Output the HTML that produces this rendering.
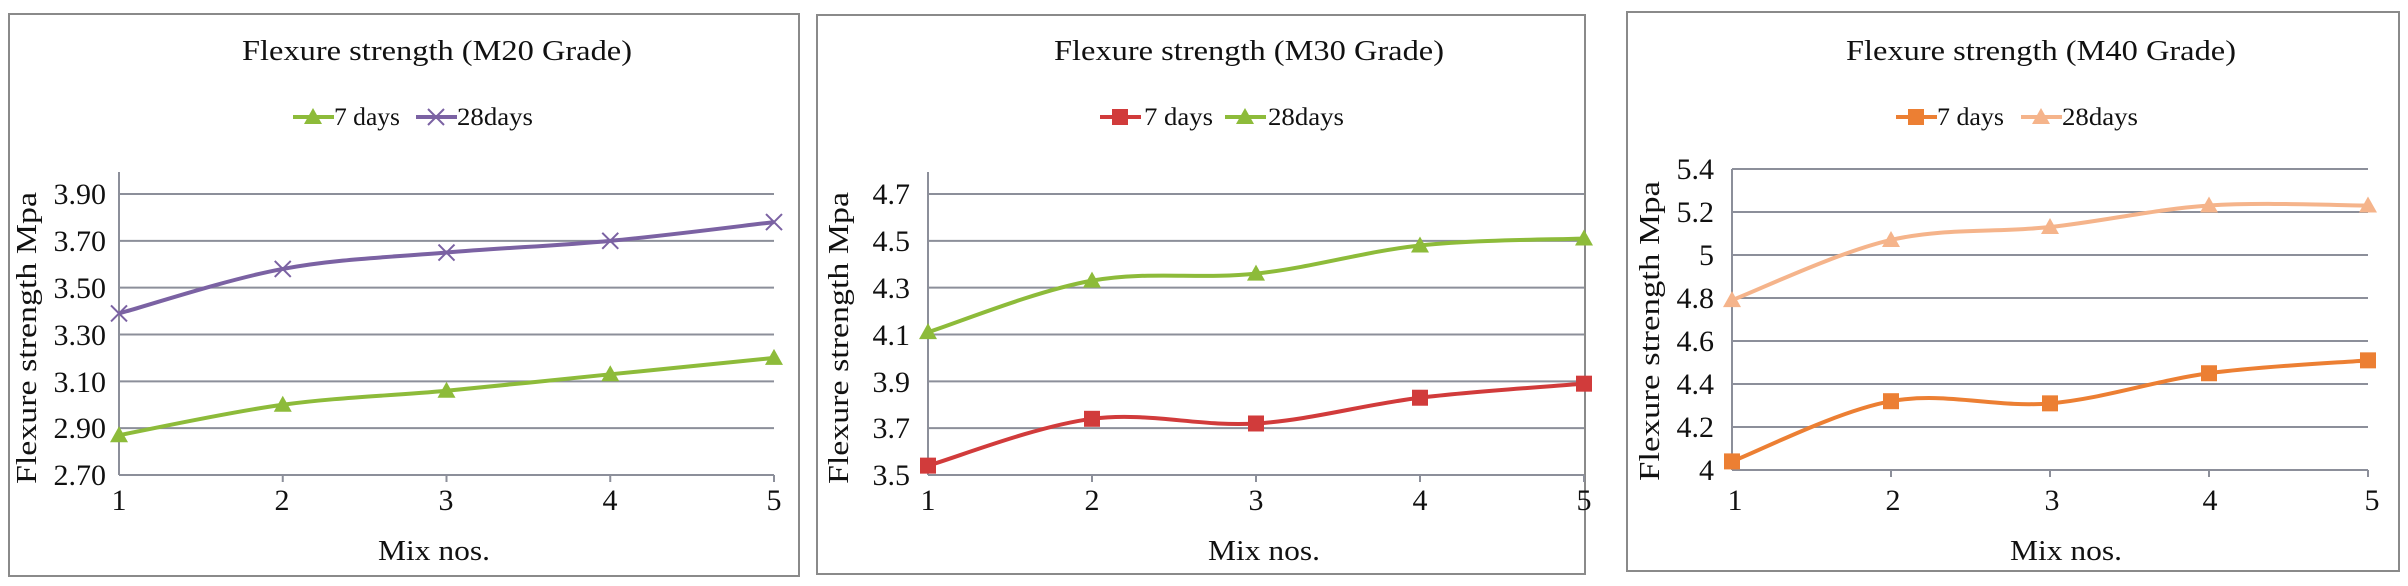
<!DOCTYPE html>
<html><head><meta charset="utf-8"><style>
html,body{margin:0;padding:0;background:#fff;}
svg{display:block;font-family:"Liberation Serif",serif;}
</style></head><body>
<svg id="s" width="2408" height="586" viewBox="0 0 2408 586" xmlns="http://www.w3.org/2000/svg">
<rect x="0" y="0" width="2408" height="586" fill="#fff"/>
<rect x="9" y="14" width="790" height="562" fill="none" stroke="#8a8a8a" stroke-width="2"/>
<rect x="817" y="15" width="768" height="559" fill="none" stroke="#8a8a8a" stroke-width="2"/>
<rect x="1627" y="12" width="772" height="559" fill="none" stroke="#8a8a8a" stroke-width="2"/>
<g font-size="29" fill="#111" text-anchor="middle">
<text x="437" y="60" textLength="390" lengthAdjust="spacingAndGlyphs">Flexure strength (M20 Grade)</text>
<text x="1249" y="60" textLength="390" lengthAdjust="spacingAndGlyphs">Flexure strength (M30 Grade)</text>
<text x="2041" y="60" textLength="390" lengthAdjust="spacingAndGlyphs">Flexure strength (M40 Grade)</text>
<text x="434" y="560" textLength="112" lengthAdjust="spacingAndGlyphs">Mix nos.</text>
<text x="1264" y="560" textLength="112" lengthAdjust="spacingAndGlyphs">Mix nos.</text>
<text x="2066" y="560" textLength="112" lengthAdjust="spacingAndGlyphs">Mix nos.</text>
<text transform="translate(36,338) rotate(-90)" textLength="292" lengthAdjust="spacingAndGlyphs">Flexure strength Mpa</text>
<text transform="translate(848,338) rotate(-90)" textLength="292" lengthAdjust="spacingAndGlyphs">Flexure strength Mpa</text>
<text transform="translate(1659,331) rotate(-90)" textLength="300" lengthAdjust="spacingAndGlyphs">Flexure strength Mpa</text>
</g>
<g font-size="25" fill="#111">
<text x="334" y="125" textLength="66" lengthAdjust="spacingAndGlyphs">7 days</text>
<text x="457" y="125" textLength="76" lengthAdjust="spacingAndGlyphs">28days</text>
<text x="1144" y="125" textLength="69" lengthAdjust="spacingAndGlyphs">7 days</text>
<text x="1268" y="125" textLength="76" lengthAdjust="spacingAndGlyphs">28days</text>
<text x="1937" y="125" textLength="67" lengthAdjust="spacingAndGlyphs">7 days</text>
<text x="2062" y="125" textLength="76" lengthAdjust="spacingAndGlyphs">28days</text>
</g>
<g font-size="30" fill="#111" text-anchor="end">
<text x="106" y="204">3.90</text><text x="106" y="251">3.70</text><text x="106" y="298">3.50</text><text x="106" y="345">3.30</text><text x="106" y="392">3.10</text><text x="106" y="438">2.90</text><text x="106" y="485">2.70</text>
<text x="910" y="204">4.7</text><text x="910" y="251">4.5</text><text x="910" y="298">4.3</text><text x="910" y="345">4.1</text><text x="910" y="392">3.9</text><text x="910" y="438">3.7</text><text x="910" y="485">3.5</text>
<text x="1714" y="179">5.4</text><text x="1714" y="222">5.2</text><text x="1714" y="265">5</text><text x="1714" y="308">4.8</text><text x="1714" y="351">4.6</text><text x="1714" y="394">4.4</text><text x="1714" y="437">4.2</text><text x="1714" y="480">4</text>
</g>
<g font-size="30" fill="#111" text-anchor="middle">
<text x="119" y="510">1</text><text x="282" y="510">2</text><text x="446" y="510">3</text><text x="610" y="510">4</text><text x="774" y="510">5</text>
<text x="928" y="510">1</text><text x="1092" y="510">2</text><text x="1256" y="510">3</text><text x="1420" y="510">4</text><text x="1584" y="510">5</text>
<text x="1735" y="510">1</text><text x="1893" y="510">2</text><text x="2052" y="510">3</text><text x="2210" y="510">4</text><text x="2372" y="510">5</text>
</g>
<g id="dyn"></g>
</svg>
<script>
var NS="http://www.w3.org/2000/svg",g=document.getElementById("dyn");
function el(t,a){var e=document.createElementNS(NS,t);for(var k in a)e.setAttribute(k,a[k]);g.appendChild(e);return e;}
function marker(type,x,y,c){
 if(type=="sq")el("rect",{x:x-8,y:y-8,width:16,height:16,fill:c});
 else if(type=="tri")el("polygon",{points:(x)+","+(y-9)+" "+(x-9)+","+(y+7)+" "+(x+9)+","+(y+7),fill:c});
 else{el("path",{d:"M"+(x-8)+" "+(y-8)+"L"+(x+8)+" "+(y+8)+"M"+(x+8)+" "+(y-8)+"L"+(x-8)+" "+(y+8),stroke:c,"stroke-width":2,fill:"none"});}
}
function panel(p){
 var X=function(i){return p.x0+(p.x1-p.x0)*i/4;};
 var Y=function(v){return p.yb+(v-p.vmin)/(p.vmax-p.vmin)*(p.yt-p.yb);};
 for(var v=p.vmin;v<=p.vmax+1e-6;v+=p.step)el("line",{x1:p.x0,x2:p.x1,y1:Y(v),y2:Y(v),stroke:"#8c8f9a","stroke-width":2});
 el("line",{x1:p.x0,x2:p.x0,y1:p.atop,y2:p.yb,stroke:"#8c8f9a","stroke-width":2});
 for(var i=1;i<5;i++)el("line",{x1:X(i),x2:X(i),y1:p.yb,y2:p.yb+7,stroke:"#8c8f9a","stroke-width":2});
 el("line",{x1:p.x1,x2:p.x1,y1:p.yb,y2:p.yb+7,stroke:"#8c8f9a","stroke-width":2});
 p.series.forEach(function(s){
  var pts=s.d.map(function(v,i){return [X(i),Y(v)];});
  var d="M"+pts[0][0]+" "+pts[0][1];
  for(var i=0;i<4;i++){var p0=pts[Math.max(i-1,0)],p1=pts[i],p2=pts[i+1],p3=pts[Math.min(i+2,4)];
   var t=0.17;d+=" C"+(p1[0]+(p2[0]-p0[0])*t)+" "+(p1[1]+(p2[1]-p0[1])*t)+" "+(p2[0]-(p3[0]-p1[0])*t)+" "+(p2[1]-(p3[1]-p1[1])*t)+" "+p2[0]+" "+p2[1];}
  el("path",{d:d,stroke:s.c,"stroke-width":4,fill:"none"});
  pts.forEach(function(q){marker(s.m,q[0],q[1],s.c);});
  el("line",{x1:s.lx,x2:s.lx+41,y1:117,y2:117,stroke:s.c,"stroke-width":4});
  marker(s.m,s.lx+20,117,s.c);
 });
}
panel({x0:119,x1:774,yb:475,yt:194,vmin:2.7,vmax:3.9,step:0.2,atop:172,series:[
 {d:[2.87,3.0,3.06,3.13,3.2],c:"#8dbb3a",m:"tri",lx:293},
 {d:[3.39,3.58,3.65,3.70,3.78],c:"#7b62a3",m:"x",lx:416}]});
panel({x0:928,x1:1584,yb:475,yt:194,vmin:3.5,vmax:4.7,step:0.2,atop:172,series:[
 {d:[3.54,3.74,3.72,3.83,3.89],c:"#d13b3b",m:"sq",lx:1100},
 {d:[4.11,4.33,4.36,4.48,4.51],c:"#8dbb3a",m:"tri",lx:1225}]});
panel({x0:1732,x1:2368,yb:470,yt:169,vmin:4.0,vmax:5.4,step:0.2,atop:169,series:[
 {d:[4.04,4.32,4.31,4.45,4.51],c:"#ec7f33",m:"sq",lx:1896},
 {d:[4.79,5.07,5.13,5.23,5.23],c:"#f5b48b",m:"tri",lx:2021}]});
</script>
</body></html>
